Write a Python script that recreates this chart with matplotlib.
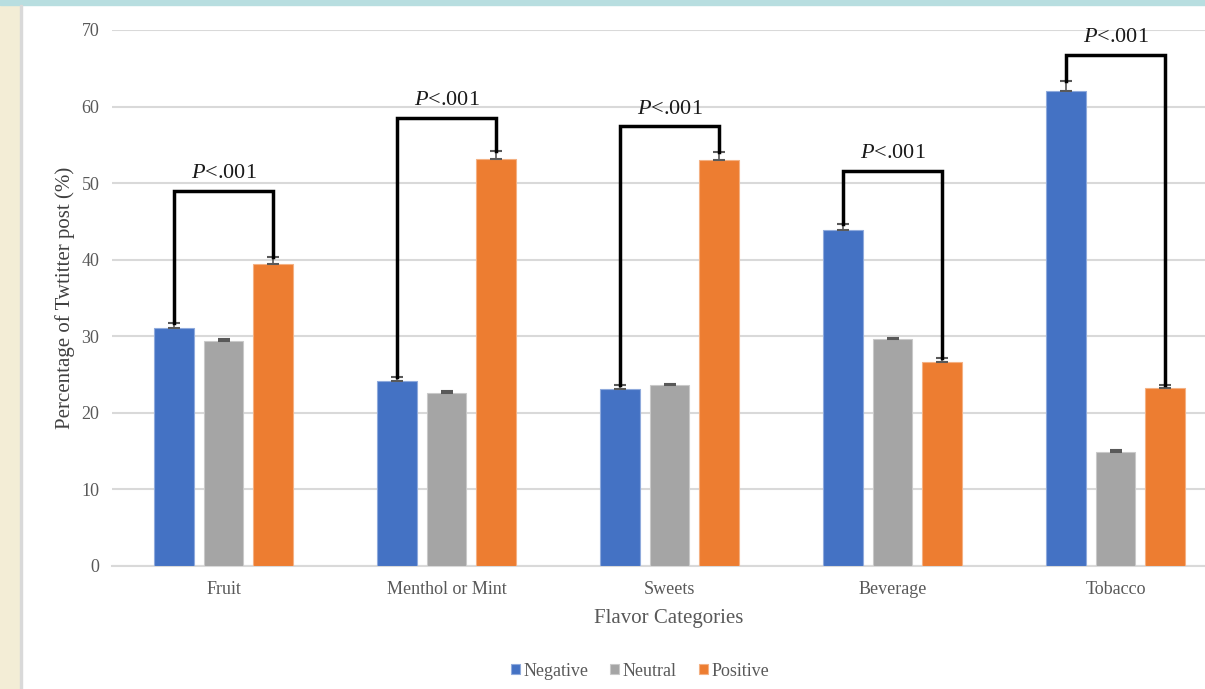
import matplotlib.pyplot as plt
import numpy as np
from matplotlib.patches import Rectangle

# Data
categories = ['Fruit', 'Menthol or Mint', 'Sweets', 'Beverage', 'Tobacco']
negative = [31.1, 24.2, 23.1, 43.9, 62.0]
neutral = [29.4, 22.6, 23.6, 29.6, 14.9]
positive = [39.5, 53.1, 53.0, 26.6, 23.2]
negative_err = [0.6, 0.5, 0.5, 0.8, 1.3]
neutral_err = [0.2, 0.2, 0.2, 0.2, 0.2]
positive_err = [0.8, 1.1, 1.1, 0.6, 0.5]
bracket_top = [49.0, 58.5, 57.4, 51.6, 66.8]
p_labels = ['P<.001'] * 5

plt.rcParams['font.family'] = ['Liberation Serif', 'DejaVu Serif']
plt.rcParams['mathtext.fontset'] = 'custom'
plt.rcParams['mathtext.it'] = 'Liberation Serif:italic'
plt.rcParams['mathtext.rm'] = 'Liberation Serif'

fig = plt.figure(figsize=(12.05, 6.89), dpi=100)
fig.patch.set_facecolor('white')

# slide background: cream strip on the left, teal strip on top
fig.patches.append(Rectangle((0, 0), 20 / 1205, 1, transform=fig.transFigure,
                             color='#F3EDD6', zorder=0))
fig.patches.append(Rectangle((0, 1 - 5 / 689), 1, 5 / 689, transform=fig.transFigure,
                             color='#B8DEE0', zorder=0))
fig.patches.append(Rectangle((20 / 1205, 0), 1.5 / 1205, 1 - 5 / 689, transform=fig.transFigure,
                             color='#D9D9D9', zorder=0))

ax = fig.add_axes([112 / 1205, 123 / 689, 1115 / 1205, 536 / 689])
ax.set_facecolor('none')

x = np.arange(len(categories))
w = 0.175
off = 0.222
colors = ['#4472C4', '#A5A5A5', '#ED7D31']
edges = ['#8FAADC', '#C9C9C9', '#F4B183']
series = [('Negative', negative, negative_err), ('Neutral', neutral, neutral_err),
          ('Positive', positive, positive_err)]

for i, (name, vals, errs) in enumerate(series):
    ax.bar(x + (i - 1) * off, vals, w, color=colors[i], edgecolor=edges[i],
           linewidth=0.8, label=name, zorder=3,
           yerr=[np.zeros(len(errs)), errs],
           error_kw=dict(ecolor='#595959', elinewidth=1.2, capsize=4, capthick=1.5))

# significance brackets between negative and positive
for i in range(len(categories)):
    xl = x[i] - off
    xr = x[i] + off
    yl = negative[i] + negative_err[i]
    yr = positive[i] + positive_err[i]
    top = bracket_top[i]
    ax.plot([xl, xl, xr, xr], [yl, top, top, yr], color='black', lw=2.5, zorder=4,
            solid_joinstyle='miter')
    ax.text(x[i], top + 1.0, '$P$<.001', ha='center', va='bottom', fontsize=16,
            color='#1a1a1a')

ax.set_xlim(-0.5, 4.5)
ax.set_ylim(0, 70)
ax.set_yticks(range(0, 71, 10))
ax.set_xticks(x)
ax.set_xticklabels(categories)
ax.tick_params(axis='both', length=0, labelsize=13, labelcolor='#595959')
ax.tick_params(axis='y', pad=9)
ax.tick_params(axis='x', pad=11)
ax.yaxis.grid(True, color='#D9D9D9', lw=1.5, zorder=0)
ax.set_axisbelow(True)
for s in ['top', 'right', 'left']:
    ax.spines[s].set_visible(False)
ax.spines['bottom'].set_color('#D9D9D9')
ax.spines['bottom'].set_linewidth(1.5)

ax.set_ylabel('Percentage of Twtitter post (%)', fontsize=15, color='#404040', labelpad=5)
fig.text(669 / 1205, 1 - 618 / 689, 'Flavor Categories', ha='center', va='center',
         fontsize=15, color='#595959')

fig.legend(loc='center', bbox_to_anchor=(640 / 1205, 1 - 671 / 689), ncol=3,
           frameon=False, fontsize=13, handlelength=0.5, handleheight=0.5,
           handletextpad=0.2, columnspacing=1.2, labelcolor='#595959')

fig.savefig('out.png', dpi=100)
